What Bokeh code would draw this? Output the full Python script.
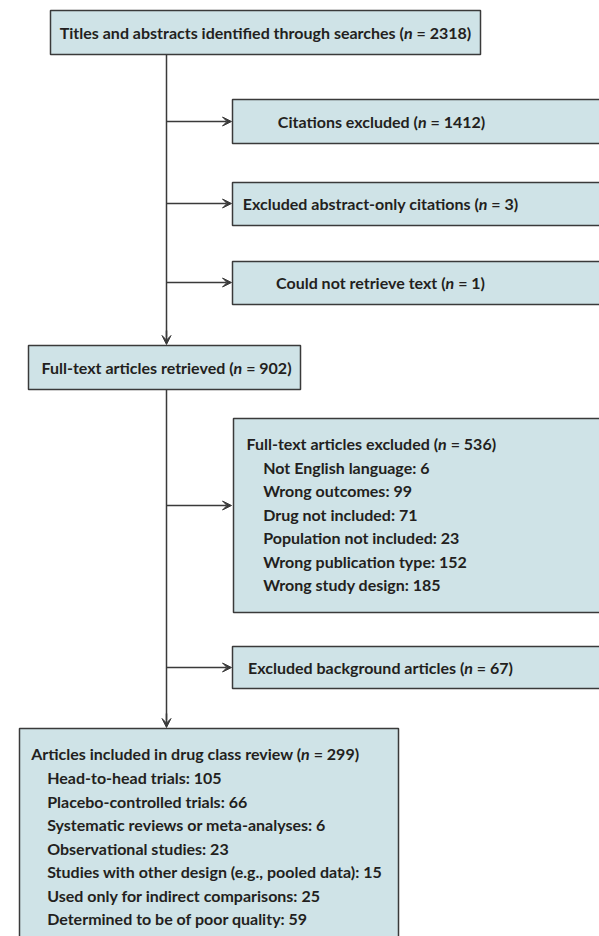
import glob
from bokeh.plotting import figure
from bokeh.models import Range1d, Arrow, VeeHead, ColumnDataSource
from bokeh.core.properties import value
from bokeh.embed import file_html
from bokeh.resources import INLINE

# ---------------- data ----------------
stage_labels = [
    "Titles and abstracts identified through searches",
    "Citations excluded",
    "Excluded abstract-only citations",
    "Could not retrieve text",
    "Full-text articles retrieved",
    "Full-text articles excluded",
    "Excluded background articles",
    "Articles included in drug class review",
]
stage_counts = [2318, 1412, 3, 1, 902, 536, 67, 299]

excluded_reasons = [
    "Not English language",
    "Wrong outcomes",
    "Drug not included",
    "Population not included",
    "Wrong publication type",
    "Wrong study design",
]
excluded_counts = [6, 99, 71, 23, 152, 185]

included_types = [
    "Head-to-head trials",
    "Placebo-controlled trials",
    "Systematic reviews or meta-analyses",
    "Observational studies",
    "Studies with other design (e.g., pooled data)",
    "Used only for indirect comparisons",
    "Determined to be of poor quality",
]
included_counts = [105, 66, 6, 23, 15, 25, 59]

# ---------------- layout (screen pixels) ----------------
boxes = [
    (50, 480, 10, 54),
    (232, 610, 99, 143),
    (232, 610, 182, 225),
    (232, 610, 261, 304),
    (28, 300, 345, 389),
    (233, 610, 418, 612),
    (232, 610, 646, 688),
    (19, 398, 728, 945),
]
title_y = [32, 121, 203, 282, 367, 443, 667, 753]
# ("c", center_x) for centred titles, ("l", left_x) for left-aligned ones
title_anchor = [("c", 265), ("c", 381), ("c", 380), ("c", 380), ("c", 166),
                ("l", 246), ("c", 380), ("l", 30.7)]
excl_x, excl_y0 = 262.7, 466.5
incl_x, incl_y0 = 46.7, 777
line_step = 23.5

stem_x = 166
branch_y = [121, 203, 282, 505, 667]
branch_end = 232

FILL = "#cfe3e7"
EDGE = "#3a3a3a"
TXT = "#231f20"
FONT = value("Lato")
PX = 16
FSIZE = f"{PX}px"

# text measurement for placing the italic "n"
def _loader(name):
    try:
        from PIL import ImageFont
        files = glob.glob(f"/usr/share/fonts/**/{name}", recursive=True)
        if files:
            f = ImageFont.truetype(files[0], PX)
            return lambda s: f.getlength(s)
    except Exception:
        pass
    return lambda s: 0.5 * PX * len(s)

w_bold = _loader("Lato-Bold.ttf")
w_ital = _loader("Lato-BoldItalic.ttf")

pre_txt, pre_x, n_x, suf_txt, suf_x = [], [], [], [], []
for lab, cnt, (mode, ax) in zip(stage_labels, stage_counts, title_anchor):
    pre = f"{lab} ("
    suf = f"= {cnt})"
    wp, wn, ws, wsp = w_bold(pre), w_ital("n"), w_bold(suf), w_bold(" ")
    total = wp + wn + wsp + ws
    left = ax - total / 2 if mode == "c" else ax
    pre_txt.append(pre); pre_x.append(left)
    n_x.append(left + wp)
    suf_txt.append(suf); suf_x.append(left + wp + wn + wsp)

p = figure(width=599, height=936, output_backend="svg", toolbar_location=None,
           x_range=Range1d(0, 599), y_range=Range1d(936, 0),
           min_border=0, outline_line_color=None)
p.axis.visible = False
p.grid.visible = False
p.background_fill_color = "white"
p.border_fill_color = "white"

# connectors
p.segment(x0=[stem_x, stem_x], y0=[54, 389], x1=[stem_x, stem_x], y1=[337, 720],
          line_color=EDGE, line_width=1.5)
for yb in branch_y:
    p.add_layout(Arrow(end=VeeHead(size=9, line_color=EDGE, fill_color=EDGE, line_width=1),
                       x_start=stem_x, y_start=yb, x_end=branch_end - 1, y_end=yb,
                       line_color=EDGE, line_width=1.5))
for yt, yh in [(330, 344), (713, 727)]:
    p.add_layout(Arrow(end=VeeHead(size=9, line_color=EDGE, fill_color=EDGE, line_width=1),
                       x_start=stem_x, y_start=yt, x_end=stem_x, y_end=yh,
                       line_color=EDGE, line_width=1.5))

# boxes
bsrc = ColumnDataSource(dict(
    left=[b[0] for b in boxes], right=[b[1] for b in boxes],
    top=[b[2] for b in boxes], bottom=[b[3] for b in boxes]))
p.quad(left="left", right="right", top="top", bottom="bottom", source=bsrc,
       fill_color=FILL, line_color=EDGE, line_width=1.5)

# titles with italic n
common = dict(text_baseline="middle", text_font=FONT, text_font_size=FSIZE,
              text_color=TXT, text_align="left")
p.text(x=pre_x, y=title_y, text=pre_txt, text_font_style="bold", **common)
p.text(x=n_x, y=title_y, text=["n"] * len(n_x), text_font_style="bold italic", **common)
p.text(x=suf_x, y=title_y, text=suf_txt, text_font_style="bold", **common)

# sub-lists
ex_txt = [f"{r}: {c}" for r, c in zip(excluded_reasons, excluded_counts)]
p.text(x=[excl_x] * len(ex_txt), y=[excl_y0 + i * line_step for i in range(len(ex_txt))],
       text=ex_txt, text_font_style="bold", **common)
in_txt = [f"{r}: {c}" for r, c in zip(included_types, included_counts)]
p.text(x=[incl_x] * len(in_txt), y=[incl_y0 + i * line_step for i in range(len(in_txt))],
       text=in_txt, text_font_style="bold", **common)

open("out.html", "w").write(file_html(p, INLINE))
